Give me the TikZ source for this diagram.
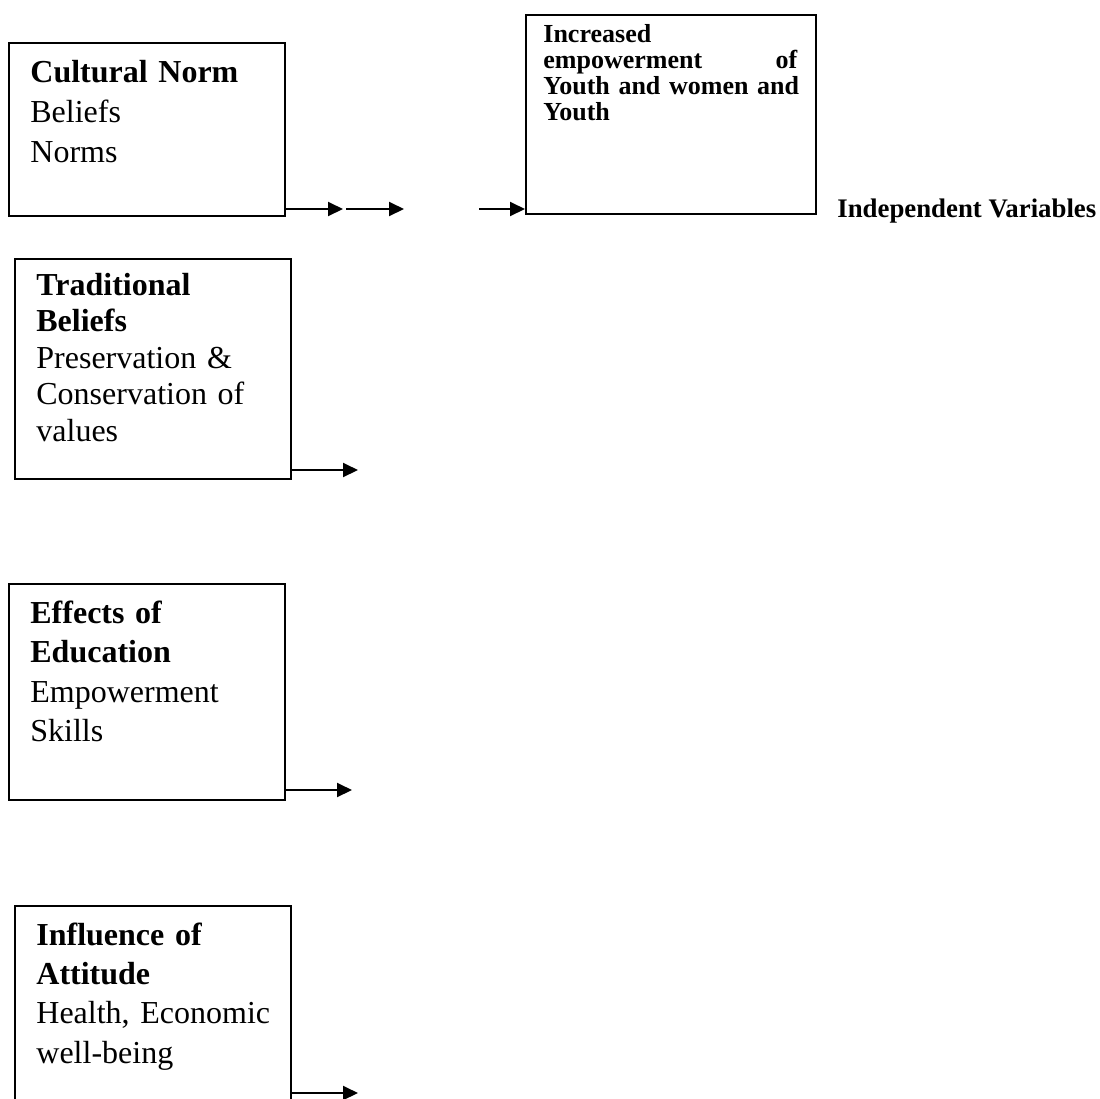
\documentclass[tikz,border=0pt]{standalone}
\usepackage{fontspec}
\setmainfont{Liberation Serif}
\usetikzlibrary{arrows.meta,positioning}
\tikzset{
  varbox/.style={draw, line width=1pt, rectangle, anchor=north west, inner sep=0pt, minimum width=138pt},
  vartext/.style={anchor=base west, inner sep=0pt, text width=125pt, align=left, font=\fontsize{16}{20}\selectfont},
  arr/.style={-{Triangle[length=7.5pt,width=7pt]}, line width=1pt},
}
\begin{document}
\begin{tikzpicture}[x=0.5pt,y=-0.5pt]
    \clip (0,0) rectangle (1099,1099);
    \node (cult) [varbox, minimum height=86.5pt] at (8,42) {};
    \node (trad) [varbox, minimum height=110pt] at (14,258) {};
    \node (edu) [varbox, minimum height=108pt] at (8,583) {};
    \node (att) [varbox, minimum height=118pt] at (14,905) {};
    \node (out) [varbox, minimum width=145pt, minimum height=99.5pt] at (525,14) {};

    \node (culttxt) [vartext] at ([shift={(22,40)}]cult.north west) {\textbf{Cultural Norm}\\Beliefs\\Norms};
    \node (tradtxt) [vartext, font=\fontsize{16}{18.25}\selectfont] at ([shift={(22,37)}]trad.north west) {\textbf{Traditional}\\\textbf{Beliefs}\\Preservation \&\\Conservation of\\values};
    \node (edutxt) [vartext, font=\fontsize{16}{19.8}\selectfont] at ([shift={(22,40)}]edu.north west) {\textbf{Effects of}\\\textbf{Education}\\Empowerment\\Skills};
    \node (atttxt) [vartext, font=\fontsize{16}{19.7}\selectfont] at ([shift={(22,40)}]att.north west) {\textbf{Influence of}\\\textbf{Attitude}\\Health, Economic\\well-being};
    \node (outtxt) [vartext, text width=140pt, font=\fontsize{13}{13.15}\selectfont\bfseries] at ([shift={(18,28)}]out.north west) {Increased\\\makebox[127pt]{empowerment\hfill of}\\\makebox[127pt][s]{Youth and women and}\\Youth};
    \node (indep) [anchor=base west, inner sep=0pt, font=\fontsize{13.4}{16}\selectfont\bfseries] at (837,217) {Independent Variables};

    \coordinate (c1) at (343,209);
    \coordinate (c2s) at (346,209);
    \coordinate (c2) at (404,209);
    \coordinate (c3s) at (479,209);
    \coordinate (t1) at (358,470);
    \coordinate (e1) at (352,790);
    \coordinate (a1) at (358,1093);

    \draw[arr] (cult.east |- c1) -- (c1);
    \draw[arr] (c2s) -- (c2);
    \draw[arr] (c3s) -- (c3s -| out.west);
    \draw[arr] (trad.east |- t1) -- (t1);
    \draw[arr] (edu.east |- e1) -- (e1);
    \draw[arr] (att.east |- a1) -- (a1);
\end{tikzpicture}
\end{document}
